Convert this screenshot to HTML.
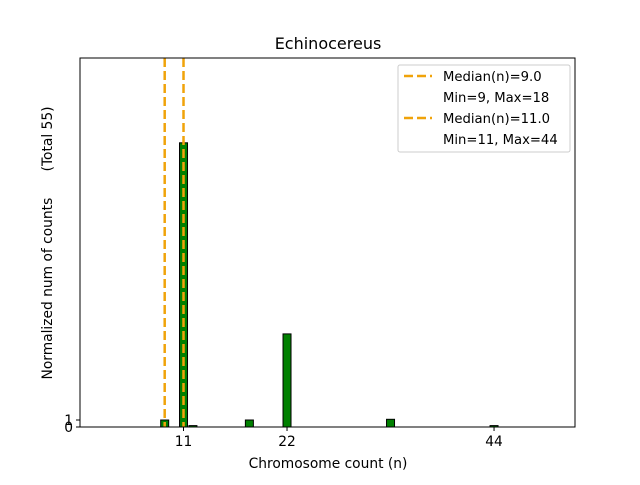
<!DOCTYPE html>
<html><head><meta charset="utf-8"><style>
body{margin:0;background:#fff;}
svg text{font-family:"DejaVu Sans","Liberation Sans",sans-serif;fill:#000;}
</style></head><body>
<svg id="chart" width="640" height="480" xmlns="http://www.w3.org/2000/svg">
<rect width="640" height="480" fill="#fff"/>
<text x="328" y="49" font-size="16" text-anchor="middle">Echinocereus</text>
<g id="bars"></g>
<g id="medians"></g>
<rect x="80" y="58" width="495" height="369" fill="none" stroke="#000" stroke-width="1"/>
<g id="xticks"></g>
<g id="yticks"></g>
<text x="328" y="468" font-size="13.8" text-anchor="middle">Chromosome count (n)</text>
<text transform="translate(52,243) rotate(-90)" font-size="13.8" text-anchor="middle" style="white-space:pre">Normalized num of counts      (Total 55)</text>
<g>
<rect x="398" y="65" width="172" height="87" rx="2" fill="#fff" fill-opacity="0.8" stroke="#ccc"/>
<line x1="404" y1="76" x2="432" y2="76" stroke="#f0a30a" stroke-width="2.5" stroke-dasharray="9,4"/>
<text x="443" y="81" font-size="13.2">Median(n)=9.0</text>
<text x="443" y="102" font-size="13.2">Min=9, Max=18</text>
<line x1="404" y1="118" x2="432" y2="118" stroke="#f0a30a" stroke-width="2.5" stroke-dasharray="9,4"/>
<text x="443" y="123" font-size="13.2">Median(n)=11.0</text>
<text x="443" y="144" font-size="13.2">Min=11, Max=44</text>
</g>
</svg>
<script>
const categories=[9,11,12,18,22,33,44];
const values=[1,40.6,0.2,1,13.3,1.1,0.2];
const medians=[9,11];
const xTicks=[11,22,44];
const yTicks=[0,1];
const NS="http://www.w3.org/2000/svg";
const X0=80,PX=9.41,Y0=427,PY=7;
function xs(v){return X0+v*PX;}
function ys(v){return Y0-v*PY;}
const bars=document.getElementById('bars');
categories.forEach((c,i)=>{
 const r=document.createElementNS(NS,'rect');
 const w=0.85*PX;
 r.setAttribute('x',xs(c)-w/2);r.setAttribute('y',ys(values[i]));
 r.setAttribute('width',w);r.setAttribute('height',Y0-ys(values[i]));
 r.setAttribute('fill','#008000');r.setAttribute('stroke','#000');r.setAttribute('stroke-width','1');
 
 
 bars.appendChild(r);
});
const med=document.getElementById('medians');
medians.forEach(m=>{
 const l=document.createElementNS(NS,'line');
 l.setAttribute('x1',xs(m));l.setAttribute('x2',xs(m));l.setAttribute('y1',58);l.setAttribute('y2',Y0);
 l.setAttribute('stroke','#f0a30a');l.setAttribute('stroke-width','2.5');l.setAttribute('stroke-dasharray','9,4');
 
 
 med.appendChild(l);
});
const xt=document.getElementById('xticks');
xTicks.forEach(t=>{
 const l=document.createElementNS(NS,'line');
 l.setAttribute('x1',xs(t));l.setAttribute('x2',xs(t));l.setAttribute('y1',Y0);l.setAttribute('y2',Y0+4);l.setAttribute('stroke','#000');
 
 
 xt.appendChild(l);
 const tx=document.createElementNS(NS,'text');
 tx.setAttribute('x',xs(t));tx.setAttribute('y',Y0+19);tx.setAttribute('font-size','13.8');tx.setAttribute('text-anchor','middle');
 tx.textContent=t;
 
 
 xt.appendChild(tx);
});
const yt=document.getElementById('yticks');
yTicks.forEach(t=>{
 const l=document.createElementNS(NS,'line');
 l.setAttribute('x1',X0-4);l.setAttribute('x2',X0);l.setAttribute('y1',ys(t));l.setAttribute('y2',ys(t));l.setAttribute('stroke','#000');
 
 
 yt.appendChild(l);
 const tx=document.createElementNS(NS,'text');
 tx.setAttribute('x',X0-7);tx.setAttribute('y',ys(t)+5);tx.setAttribute('font-size','13.8');tx.setAttribute('text-anchor','end');
 tx.textContent=t;
 
 
 yt.appendChild(tx);
});
</script>
</body></html>
